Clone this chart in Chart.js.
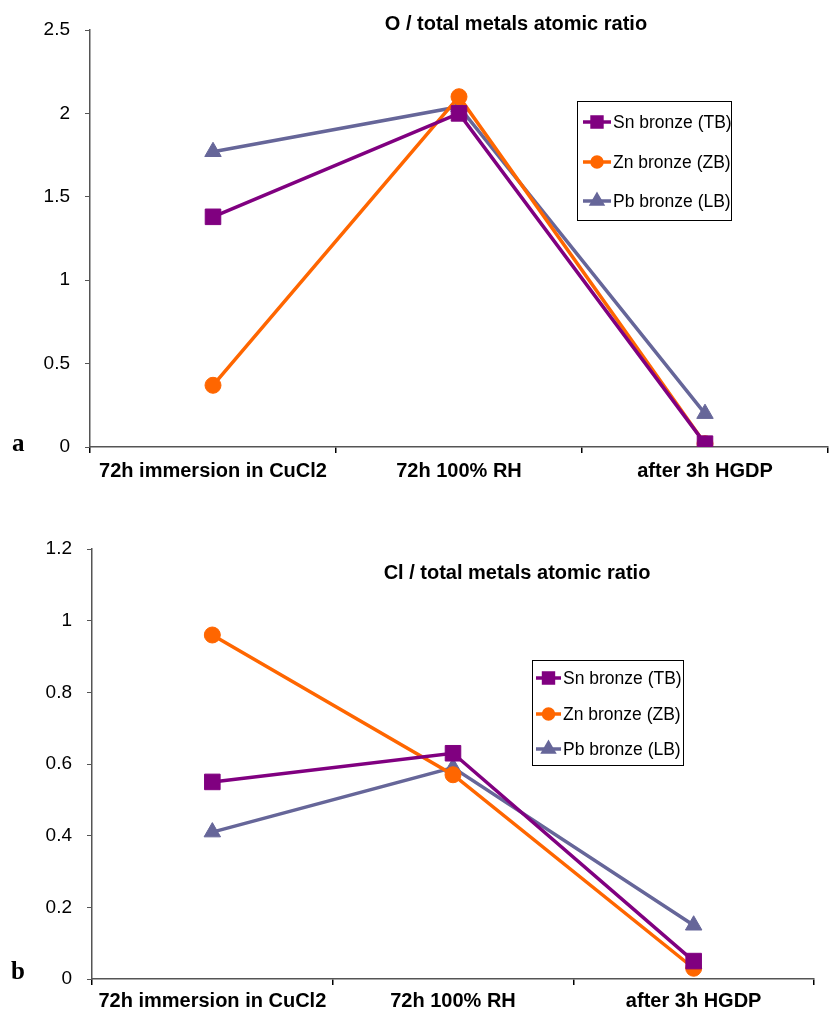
<!DOCTYPE html>
<html><head><meta charset="utf-8">
<script src="https://cdn.jsdelivr.net/npm/chart.js@4"></script>
<style>
html,body{margin:0;padding:0;background:#fff;width:832px;height:1014px;overflow:hidden;position:relative;font-family:"Liberation Sans",Arial,sans-serif;}
.wrap{position:absolute;left:0;}
.lab{position:absolute;font-family:"Liberation Serif","Times New Roman",serif;font-weight:bold;font-size:25px;color:#000;line-height:1;}
</style></head><body>
<div class="wrap" id="wa" style="top:0;width:840px;height:505px;"><canvas id="ca" width="840" height="505"></canvas></div>
<div class="wrap" id="wb" style="top:505px;width:832px;height:509px;"><canvas id="cb" width="832" height="509"></canvas></div>
<div class="lab" style="left:12px;top:430px;">a</div>
<div class="lab" style="left:11px;top:958px;">b</div>
<script>
const categories = ["72h immersion in CuCl2", "72h 100% RH", "after 3h HGDP"];
const seriesNames = ["Sn bronze (TB)", "Zn bronze (ZB)", "Pb bronze (LB)"];
// Panel a: O / total metals atomic ratio
const oSn = [1.38, 2.00, 0.02];
const oZn = [0.37, 2.10, 0.02];
const oPb = [1.77, 2.04, 0.20];
// Panel b: Cl / total metals atomic ratio
const clSn = [0.55, 0.63, 0.05];
const clZn = [0.96, 0.57, 0.03];
const clPb = [0.41, 0.59, 0.15];
const titleA = "O / total metals atomic ratio";
const titleB = "Cl / total metals atomic ratio";
const yTicksA = [0, 0.5, 1, 1.5, 2, 2.5];
const yTicksB = [0, 0.2, 0.4, 0.6, 0.8, 1, 1.2];

const colors = ["#800080", "#FF6600", "#666699"];
const styles = ["rect", "circle", "triangle"];
const radii = [11, 8, 9.5];
const FONT = '"Liberation Sans", Arial, sans-serif';

function makeDatasets(arrs){
  return arrs.map((d,i)=>({
    label: seriesNames[i], data: d,
    borderColor: colors[i], backgroundColor: colors[i],
    borderWidth: 3.5, pointStyle: styles[i], pointRadius: radii[i],
    pointBorderWidth: 1, pointBorderColor: colors[i], pointBackgroundColor: colors[i],
    tension: 0
  }));
}

const overlayPlugin = {
  id: 'overlay',
  afterDraw(chart, args, opts){
    const ctx = chart.ctx;
    ctx.save();
    ctx.font = 'bold 20px ' + FONT;
    ctx.fillStyle = '#000';
    ctx.textAlign = 'center'; ctx.textBaseline = 'middle';
    ctx.fillText(opts.title, opts.titleX, opts.titleY);
    const L = opts.legend;
    ctx.fillStyle = '#fff';
    ctx.fillRect(L.x, L.y, L.w, L.h);
    ctx.strokeStyle = '#000'; ctx.lineWidth = 1;
    ctx.strokeRect(L.x + 0.5, L.y + 0.5, L.w, L.h);
    ctx.font = '17.5px ' + FONT;
    ctx.textAlign = 'left';
    chart.data.datasets.forEach((ds, i) => {
      const y = L.rows[i];
      const x0 = L.x + L.lineStart;
      ctx.strokeStyle = ds.borderColor; ctx.lineWidth = 3.5;
      ctx.beginPath(); ctx.moveTo(x0, y); ctx.lineTo(x0 + L.lineLen, y); ctx.stroke();
      ctx.fillStyle = ds.borderColor;
      const r = ds.pointStyle==='rect' ? 7 : (ds.pointStyle==='circle' ? 5 : 6);
      Chart.helpers.drawPoint(ctx, {pointStyle: ds.pointStyle, rotation: 0, borderWidth: 1, radius: r}, x0 + L.lineLen/2, y);
      ctx.fillStyle = '#000';
      ctx.fillText(ds.label, x0 + L.lineLen + 2, y + 1);
    });
    ctx.restore();
  }
};

function makeChart(id, arrs, yMax, yTicks, axisWidth, xHeight, xPad, padTop, padRight, overlay){
  return new Chart(document.getElementById(id), {
    type: 'line',
    data: { labels: categories, datasets: makeDatasets(arrs) },
    plugins: [overlayPlugin],
    options: {
      responsive: false, animation: false,
      layout: { padding: { top: padTop, right: padRight, left: 0, bottom: 0 } },
      plugins: { legend: { display: false }, title: { display: false }, tooltip: { enabled: false }, overlay: overlay },
      scales: {
        x: {
          offset: true,
          grid: { offset: true, drawOnChartArea: false, drawTicks: true, tickLength: 6, color: '#000', lineWidth: 1.5 },
          border: { color: '#555', width: 1.5 },
          ticks: { color: '#000', padding: xPad, autoSkip: false, font: { family: FONT, size: 20, weight: 'bold' }, maxRotation: 0 },
          afterFit(s){ s.height = xHeight; s.paddingLeft = 0; s.paddingRight = 0; }
        },
        y: {
          min: 0, max: yMax,
          afterBuildTicks(s){ s.ticks = yTicks.map(v => ({value: v})); },
          grid: { drawOnChartArea: false, drawTicks: true, tickLength: 5, color: '#555' },
          border: { color: '#555', width: 1.5 },
          ticks: { color: '#000', padding: 15, font: { family: FONT, size: 19 }, callback: (v) => String(v) },
          afterFit(s){ s.width = axisWidth; }
        }
      }
    }
  });
}

makeChart('ca', [oSn, oZn, oPb], 2.5, yTicksA, 90, 58, 6, 30, 0, {
  title: titleA, titleX: 516, titleY: 24,
  legend: { x: 577, y: 101, w: 154, h: 119, rows: [122, 162, 201], lineStart: 6, lineLen: 28 }
});
makeChart('cb', [clSn, clZn, clPb], 1.2, yTicksB, 92, 35, 4, 44, 18, {
  title: titleB, titleX: 517, titleY: 68,
  legend: { x: 532, y: 155, w: 151, h: 105, rows: [173, 209, 244], lineStart: 4, lineLen: 25 }
});
</script>
</body></html>
